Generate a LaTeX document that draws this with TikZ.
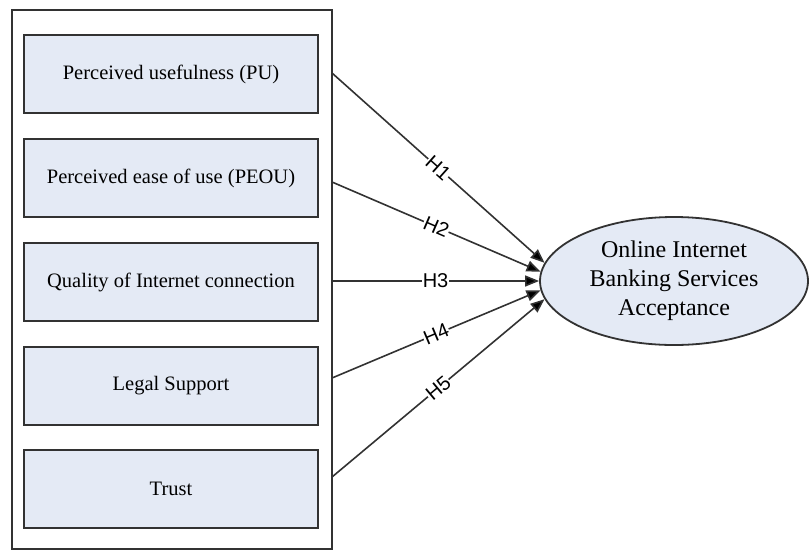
\documentclass[tikz,border=0pt]{standalone}
\usepackage{fontspec}
\setmainfont{Liberation Serif}
\newfontfamily\hfont{Liberation Sans}
\usetikzlibrary{arrows.meta,shapes.geometric}
\definecolor{boxfill}{RGB}{228,234,245}
\definecolor{linegray}{RGB}{50,50,50}
\begin{document}
\begin{tikzpicture}[x=1pt,y=-1pt,
  factor/.style={draw=linegray,line width=2pt,fill=boxfill,minimum width=294pt,minimum height=78pt,inner sep=0pt,font=\fontsize{20.5}{24}\selectfont},
  hyp/.style={draw=linegray,line width=1.6pt,-{Triangle[length=14pt,width=11pt,fill=black]}},
  hlabel/.style={fill=white,inner sep=0.5pt,sloped,font=\hfont\fontsize{20}{22}\selectfont}]
\useasboundingbox (0,0) rectangle (810,552);
\draw[linegray,line width=2pt] (12,10) rectangle (332,549);
\node[factor] (pu) at (171,74) {Perceived usefulness (PU)};
\node[factor] (peou) at (171,178) {Perceived ease of use (PEOU)};
\node[factor] (qic) at (171,282) {Quality of Internet connection};
\node[factor] (legal) at (171,386) {Legal Support};
\node[factor] (trust) at (171,489) {Trust};
\node[draw=linegray,line width=1.8pt,fill=boxfill,ellipse,minimum width=268pt,minimum height=128pt,inner sep=0pt,align=center,font=\fontsize{24}{29}\selectfont] (oibs) at (674,281) {Online Internet\\Banking Services\\Acceptance};
% hypotheses H1--H5
\foreach \y/\a/\h in {73/172/1,182/176/2,281/180/3,378/184/4,477/188/5}{
  \coordinate (s\h) at (332,\y);
  \draw[hyp] (s\h) -- node[hlabel] {H\h} (oibs.\a);
}
\end{tikzpicture}
\end{document}
